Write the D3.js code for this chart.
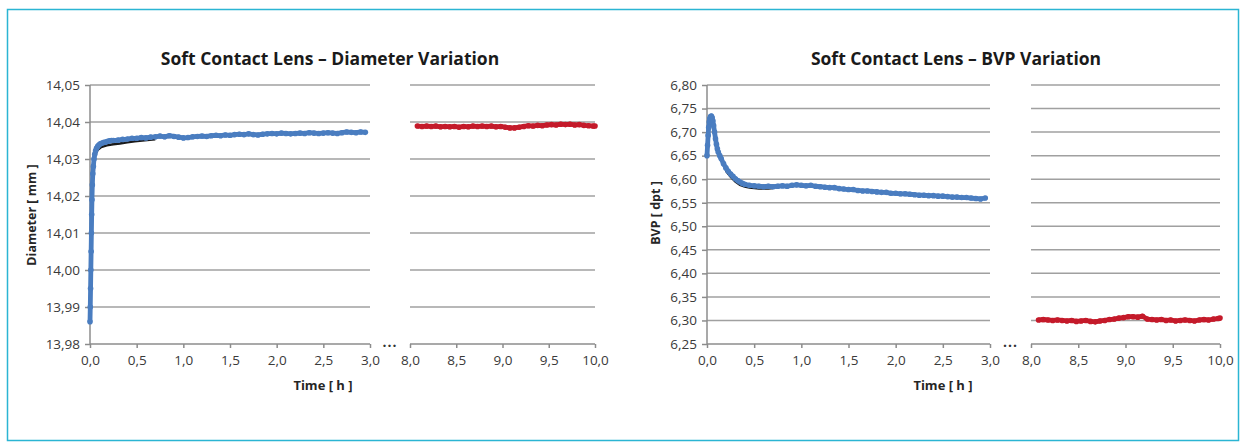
<!DOCTYPE html>
<html><head><meta charset="utf-8">
<script src="https://cdn.jsdelivr.net/npm/d3@7"></script>
<style>
html,body{margin:0;padding:0;background:#fff;}
svg{display:block;font-family:"Open Sans",sans-serif;}
</style></head>
<body>
<svg id="c" width="1246" height="448"></svg>
<script>
// ---------- DATA ----------
const diameterTitle = "Soft Contact Lens \u2013 Diameter Variation";
const bvpTitle = "Soft Contact Lens \u2013 BVP Variation";
const xTicksEarly = [0, 0.5, 1, 1.5, 2, 2.5, 3];
const xTicksLate = [8, 8.5, 9, 9.5, 10];
const diameterTicks = [13.98, 13.99, 14.00, 14.01, 14.02, 14.03, 14.04, 14.05];
const bvpTicks = [6.25, 6.30, 6.35, 6.40, 6.45, 6.50, 6.55, 6.60, 6.65, 6.70, 6.75, 6.80];

// Diameter [mm] vs time [h], 0-3 h (blue)
const diameterEarly = [
 [0,13.986],[0.003,13.990],[0.006,13.995],[0.009,14.000],[0.012,14.005],[0.015,14.010],
 [0.018,14.015],[0.021,14.019],[0.025,14.023],[0.030,14.026],[0.036,14.028],[0.043,14.030],
 [0.051,14.0313],[0.060,14.0322],[0.070,14.0329],[0.082,14.0334],[0.095,14.0338],[0.11,14.0341],
 [0.13,14.0343],[0.15,14.0345],[0.17,14.0346],[0.19,14.0348],[0.21,14.0349],[0.23,14.0350],
 [0.25,14.0350],[0.30,14.0351],[0.35,14.0353],[0.40,14.0354],[0.45,14.0356],[0.50,14.0356],
 [0.55,14.0358],[0.60,14.0357],[0.65,14.0359],[0.70,14.0360],[0.75,14.0362],[0.80,14.0360],
 [0.85,14.0363],[0.90,14.0361],[0.95,14.0359],[1.00,14.0357],[1.05,14.0358],[1.10,14.0360],
 [1.15,14.0361],[1.20,14.0362],[1.25,14.0361],[1.30,14.0363],[1.35,14.0364],[1.40,14.0363],
 [1.45,14.0365],[1.50,14.0364],[1.55,14.0366],[1.60,14.0367],[1.65,14.0366],[1.70,14.0368],
 [1.75,14.0366],[1.80,14.0365],[1.85,14.0367],[1.90,14.0368],[1.95,14.0369],[2.00,14.0368],
 [2.05,14.0370],[2.10,14.0369],[2.15,14.0368],[2.20,14.0369],[2.25,14.0370],[2.30,14.0369],
 [2.35,14.0371],[2.40,14.0370],[2.45,14.0369],[2.50,14.0370],[2.55,14.0371],[2.60,14.0370],
 [2.65,14.0369],[2.70,14.0371],[2.75,14.0373],[2.80,14.0372],[2.85,14.0371],[2.90,14.0373],
 [2.95,14.0372]
];
// Diameter fit (black), early phase
const diameterFit = [
 [0.05,14.0308],[0.08,14.0324],[0.12,14.0332],[0.18,14.0337],[0.25,14.0340],[0.32,14.0342],
 [0.40,14.0345],[0.48,14.0348],[0.56,14.0350],[0.64,14.0352],[0.70,14.0353]
];
// Diameter 8-10 h (red)
const diameterLate = [
 [8.08,14.0389],[8.13,14.0388],[8.18,14.0389],[8.23,14.0388],[8.28,14.0389],[8.33,14.0387],
 [8.38,14.0388],[8.43,14.0387],[8.48,14.0388],[8.53,14.0386],[8.58,14.0388],[8.63,14.0387],
 [8.68,14.0389],[8.73,14.0388],[8.78,14.0389],[8.83,14.0388],[8.88,14.0389],[8.93,14.0387],
 [8.98,14.0388],[9.03,14.0386],[9.08,14.0384],[9.13,14.0384],[9.18,14.0386],[9.23,14.0388],
 [9.28,14.0390],[9.33,14.0389],[9.38,14.0391],[9.43,14.0390],[9.48,14.0392],[9.53,14.0393],
 [9.58,14.0392],[9.63,14.0394],[9.68,14.0393],[9.73,14.0394],[9.78,14.0392],[9.83,14.0393],
 [9.88,14.0391],[9.93,14.0390],[9.98,14.0389],[10.0,14.0389]
];
// BVP [dpt] 0-3 h (blue)
const bvpEarly = [
 [0,6.650],[0.006,6.672],[0.012,6.693],[0.018,6.710],[0.024,6.722],[0.030,6.729],
 [0.038,6.733],[0.046,6.734],[0.054,6.731],[0.062,6.724],[0.070,6.714],[0.080,6.700],
 [0.090,6.686],[0.100,6.674],[0.110,6.664],[0.120,6.657],[0.135,6.650],[0.150,6.644],
 [0.175,6.633],[0.200,6.624],[0.225,6.617],[0.250,6.611],[0.275,6.606],[0.300,6.601],
 [0.325,6.597],[0.350,6.594],[0.375,6.591],[0.40,6.589],[0.45,6.587],[0.50,6.586],
 [0.55,6.585],[0.60,6.584],[0.65,6.585],[0.70,6.584],[0.75,6.585],[0.80,6.586],
 [0.85,6.585],[0.90,6.587],[0.95,6.588],[1.00,6.587],[1.05,6.586],[1.10,6.587],
 [1.15,6.585],[1.20,6.584],[1.25,6.583],[1.30,6.582],[1.35,6.582],[1.40,6.580],
 [1.45,6.579],[1.50,6.578],[1.55,6.578],[1.60,6.576],[1.65,6.575],[1.70,6.575],
 [1.75,6.574],[1.80,6.573],[1.85,6.572],[1.90,6.572],[1.95,6.570],[2.00,6.570],
 [2.05,6.569],[2.10,6.569],[2.15,6.568],[2.20,6.567],[2.25,6.566],[2.30,6.566],
 [2.35,6.565],[2.40,6.565],[2.45,6.564],[2.50,6.564],[2.55,6.563],[2.60,6.562],
 [2.65,6.562],[2.70,6.561],[2.75,6.561],[2.80,6.560],[2.85,6.559],[2.90,6.558],[2.95,6.560]
];
// BVP fit (black), early phase
const bvpFit = [
 [0.20,6.618],[0.25,6.605],[0.30,6.595],[0.35,6.588],[0.40,6.584],[0.45,6.582],
 [0.50,6.581],[0.55,6.580],[0.60,6.580],[0.65,6.580],[0.70,6.581]
];
// BVP 8-10 h (red)
const bvpLate = [
 [8.08,6.301],[8.13,6.302],[8.18,6.301],[8.23,6.300],[8.28,6.301],[8.33,6.300],
 [8.38,6.299],[8.43,6.300],[8.48,6.298],[8.53,6.299],[8.58,6.300],[8.63,6.298],
 [8.68,6.297],[8.73,6.299],[8.78,6.300],[8.83,6.302],[8.88,6.303],[8.93,6.305],
 [8.98,6.306],[9.03,6.308],[9.08,6.308],[9.13,6.307],[9.18,6.309],[9.23,6.303],
 [9.28,6.302],[9.33,6.301],[9.38,6.302],[9.43,6.300],[9.48,6.301],[9.53,6.299],
 [9.58,6.300],[9.63,6.301],[9.68,6.300],[9.73,6.299],[9.78,6.301],[9.83,6.302],
 [9.88,6.301],[9.93,6.303],[9.98,6.304],[10.0,6.305]
];

// ---------- DRAW ----------
const svg = d3.select("#c");
const loc = d3.formatLocale({decimal:",", thousands:".", grouping:[3], currency:["",""]});
const fmt1 = loc.format(".1f"), fmt2 = loc.format(".2f");
const BLUE = "#4a7dc0", RED = "#c41a2a", GRID = "#a0a0a0", AXIS = "#8c8c8c", TXT = "#3a3a3a";

svg.append("rect").attr("x",7.5).attr("y",9.5).attr("width",1231).attr("height",431)
  .attr("fill","none").attr("stroke","#2bb5d3").attr("stroke-width",1.5);

function chart(o){
  const g = svg.append("g");
  const xA = d3.scaleLinear().domain([0,3]).range([o.xa0,o.xa1]);
  const xB = d3.scaleLinear().domain([8,10]).range([o.xb0,o.xb1]);
  const y = d3.scaleLinear().domain([o.ticks[0], o.ticks[o.ticks.length-1]]).range([o.bottom,o.top]);

  // gridlines
  const grid = o.ticks.slice(1);
  [[o.xa0,o.xa1],[o.xb0,o.xb1]].forEach(([a,b])=>{
    g.append("g").selectAll("line").data(grid).join("line")
      .attr("x1",a).attr("x2",b).attr("y1",d=>y(d)).attr("y2",d=>y(d))
      .attr("stroke",GRID).attr("stroke-width",1.5);
  });

  // y axis
  const ya = g.append("g").attr("transform",`translate(${o.xa0},0)`)
    .call(d3.axisLeft(y).tickValues(o.ticks).tickFormat(fmt2).tickSize(5).tickPadding(5));
  // x axes
  const xa = g.append("g").attr("transform",`translate(0,${o.bottom})`)
    .call(d3.axisBottom(xA).tickValues(xTicksEarly).tickFormat(fmt1).tickSize(4).tickPadding(7));
  const xb = g.append("g").attr("transform",`translate(0,${o.bottom})`)
    .call(d3.axisBottom(xB).tickValues(xTicksLate).tickFormat(fmt1).tickSize(4).tickPadding(7));
  [ya,xa,xb].forEach(a=>{
    a.select(".domain").attr("stroke",AXIS).attr("stroke-width",1.5);
    a.selectAll(".tick line").attr("stroke",AXIS).attr("stroke-width",1.5);
    a.selectAll(".tick text").attr("fill",TXT).attr("font-size",13.5).attr("font-family","'Open Sans',sans-serif");
  });
  xa.select(".domain").attr("d",`M${o.xa0},0H${o.xa1}`);
  xb.select(".domain").attr("d",`M${o.xb0},0H${o.xb1}`);
  ya.select(".domain").attr("d",`M0,${o.bottom}V${o.top}`);

  // break dots
  g.append("text").attr("x",(o.xa1+o.xb0)/2).attr("y",o.bottom+3).attr("text-anchor","middle")
    .attr("font-size",14).attr("font-weight","bold").attr("fill","#333").attr("letter-spacing",1).text("...");

  // series
  const lineA = d3.line().x(d=>xA(d[0])).y(d=>y(d[1]));
  const lineB = d3.line().x(d=>xB(d[0])).y(d=>y(d[1]));
  g.append("path").datum(o.fit).attr("d",lineA).attr("fill","none").attr("stroke","#1a1a1a").attr("stroke-width",2.4);
  function series(data, line, xs, col){
    g.append("path").datum(data).attr("d",line).attr("fill","none").attr("stroke",col).attr("stroke-width",4.8).attr("stroke-linejoin","round");
    g.append("g").selectAll("circle").data(data).join("circle")
      .attr("cx",d=>xs(d[0])).attr("cy",d=>y(d[1])).attr("r",2.8).attr("fill",col);
  }
  series(o.early, lineA, xA, BLUE);
  series(o.late, lineB, xB, RED);

  // titles
  g.append("text").attr("x",o.titleX).attr("y",65).attr("text-anchor","middle")
    .attr("font-size",17.5).attr("font-weight","bold").attr("fill","#1a1a1a").text(o.title);
  g.append("text").attr("x",o.timeX).attr("y",390).attr("text-anchor","middle")
    .attr("font-size",13).attr("font-weight","bold").attr("fill","#262626").text("Time [ h ]");
  g.append("text").attr("transform",`translate(${o.ylabX},${o.ylabY}) rotate(-90)`).attr("text-anchor","middle")
    .attr("font-size",12.5).attr("font-weight","bold").attr("fill","#262626").text(o.ylab);
}

chart({xa0:90, xa1:370, xb0:410, xb1:595, top:85, bottom:344, ticks:diameterTicks,
  early:diameterEarly, fit:diameterFit, late:diameterLate, title:diameterTitle,
  titleX:330, timeX:323, ylab:"Diameter [ mm ]", ylabX:36, ylabY:215});
chart({xa0:707, xa1:990, xb0:1031, xb1:1220, top:85, bottom:344, ticks:bvpTicks,
  early:bvpEarly, fit:bvpFit, late:bvpLate, title:bvpTitle,
  titleX:956, timeX:943, ylab:"BVP [ dpt ]", ylabX:660, ylabY:213});
</script>
</body></html>
